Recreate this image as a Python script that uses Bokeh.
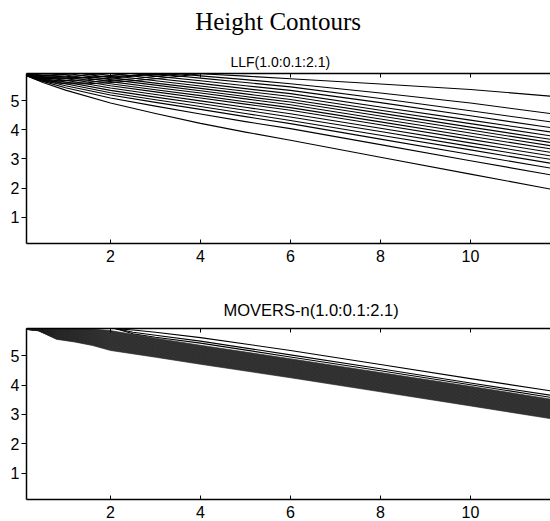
from bokeh.plotting import figure
from bokeh.models import Range1d, LinearAxis, FixedTicker, Title
from bokeh.core.properties import value
from bokeh.layouts import column
from bokeh.embed import file_html
from bokeh.resources import INLINE

# ---------------- data ----------------
MAIN_TITLE = "Height Contours"
TITLE_TOP = "LLF(1.0:0.1:2.1)"
TITLE_BOT = "MOVERS-n(1.0:0.1:2.1)"
X_TICKS = [2, 4, 6, 8, 10]
Y_TICKS = [1, 2, 3, 4, 5]
X_LIM = (0.133, 11.78)
Y_LIM = (0.1, 5.93)

# LLF contour lines: y at LLF_X (values above the top are outside the axes)
LLF_X = [0.13, 0.5, 1, 2, 3, 4, 5, 6, 8, 10, 11.8]
LLF_LINES = [
    [7.00, 6.65, 6.48, 6.21, 6.06, 5.92, 5.84, 5.75, 5.57, 5.38, 5.15],
    [6.90, 6.55, 6.40, 6.14, 6.00, 5.85, 5.72, 5.58, 5.26, 4.92, 4.55],
    [6.80, 6.45, 6.32, 6.07, 5.92, 5.77, 5.62, 5.47, 5.07, 4.65, 4.27],
    [6.70, 6.30, 6.25, 6.00, 5.84, 5.68, 5.51, 5.35, 4.93, 4.48, 4.07],
    [6.50, 6.15, 6.12, 5.93, 5.76, 5.59, 5.41, 5.24, 4.78, 4.33, 3.92],
    [6.30, 6.05, 6.05, 5.86, 5.68, 5.50, 5.32, 5.14, 4.67, 4.21, 3.79],
    [6.10, 5.97, 6.00, 5.79, 5.60, 5.42, 5.23, 5.04, 4.57, 4.09, 3.67],
    [5.95, 5.92, 5.94, 5.72, 5.53, 5.34, 5.14, 4.95, 4.47, 3.99, 3.56],
    [5.93, 5.88, 5.88, 5.65, 5.45, 5.26, 5.06, 4.86, 4.37, 3.89, 3.45],
    [5.92, 5.85, 5.82, 5.58, 5.37, 5.17, 4.96, 4.76, 4.27, 3.78, 3.34],
    [5.91, 5.82, 5.76, 5.51, 5.30, 5.09, 4.88, 4.67, 4.17, 3.67, 3.22],
    [5.90, 5.79, 5.70, 5.43, 5.21, 4.99, 4.77, 4.55, 4.05, 3.55, 3.10],
    [5.89, 5.76, 5.64, 5.35, 5.12, 4.90, 4.67, 4.44, 3.94, 3.43, 2.98],
    [5.88, 5.73, 5.58, 5.27, 5.03, 4.80, 4.56, 4.32, 3.81, 3.31, 2.85],
    [5.87, 5.70, 5.51, 5.19, 4.94, 4.70, 4.45, 4.21, 3.68, 3.15, 2.68],
    [5.86, 5.66, 5.44, 5.09, 4.81, 4.54, 4.28, 4.04, 3.49, 2.94, 2.45],
    [5.85, 5.62, 5.36, 4.92, 4.56, 4.22, 3.92, 3.64, 3.06, 2.48, 1.96],
]
# LLF arcs leaving the upper-left corner and returning to the top edge
ARC_X = [0.13, 0.4, 0.7, 1.0, 1.5, 2.0, 2.5, 3.0, 3.5, 4.0]
ARC_LINES = [
    [5.86, 5.85, 5.88, 5.93, 6.02, 6.12, 6.22, 6.32, 6.42, 6.52],
    [5.86, 5.84, 5.86, 5.90, 5.98, 6.10, 6.20, 6.30, 6.40, 6.50],
    [5.86, 5.81, 5.80, 5.82, 5.88, 5.96, 6.05, 6.15, 6.25, 6.35],
    [5.86, 5.80, 5.78, 5.78, 5.80, 5.83, 5.86, 5.89, 5.92, 5.95],
    [5.86, 5.78, 5.75, 5.75, 5.79, 5.86, 5.94, 6.03, 6.12, 6.20],
    [5.86, 5.75, 5.70, 5.69, 5.71, 5.77, 5.84, 5.92, 6.00, 6.08],
    [5.86, 5.72, 5.66, 5.63, 5.64, 5.69, 5.75, 5.83, 5.91, 5.99],
    [5.86, 5.70, 5.62, 5.58, 5.58, 5.62, 5.68, 5.75, 5.83, 5.92],
]

# MOVERS-n: three separate upper lines
MOV_TOP_X = [1.9, 2.5, 3, 4, 6, 8, 10, 11.8]
MOV_TOP_LINES = [
    [5.95, 5.88, 5.80, 5.62, 5.18, 4.70, 4.22, 3.80],
    [6.00, 5.80, 5.70, 5.50, 5.03, 4.56, 4.07, 3.65],
    [6.02, 5.75, 5.63, 5.43, 4.96, 4.49, 4.01, 3.58],
]
# MOVERS-n: dense band of contours between an upper and a lower edge
MOV_BAND_X = [0.13, 0.4, 0.8, 1.2, 1.6, 2.0, 3.0, 4.0, 6.0, 8.0, 10.0, 11.8]
MOV_BAND_UPPER = [5.93, 5.93, 5.93, 5.93, 5.91, 5.86, 5.60, 5.36, 4.90, 4.43, 3.96, 3.52]
MOV_BAND_LOWER = [5.90, 5.85, 5.56, 5.47, 5.35, 5.18, 4.95, 4.71, 4.25, 3.77, 3.29, 2.85]
MOV_BAND_LEVELS = [0.0, 0.04, 0.08, 0.12, 0.16, 0.2, 0.24, 0.28, 0.32, 0.36, 0.4,
                   0.44, 0.48, 0.52, 0.56, 0.6, 0.64, 0.68, 0.72, 0.76, 0.8,
                   0.84, 0.88, 0.92, 0.96, 1.0]

SANS = "Liberation Sans"
SERIF = "Liberation Serif"


def style_axis(ax):
    ax.axis_line_width = 1.5
    ax.axis_line_color = "black"
    ax.major_tick_line_color = "black"
    ax.major_tick_line_width = 1
    ax.minor_tick_line_color = None
    ax.major_label_text_font = SANS
    ax.major_label_text_font_size = "16px"
    ax.major_label_text_color = "black"


def make_fig(height, top, bottom):
    p = figure(width=550, height=height, output_backend="svg", toolbar_location=None,
               x_range=Range1d(*X_LIM), y_range=Range1d(*Y_LIM),
               min_border_left=26, min_border_right=0, min_border_top=top,
               min_border_bottom=bottom, x_axis_type=None, y_axis_type=None)
    p.outline_line_color = None
    p.background_fill_color = "white"
    p.border_fill_color = "white"

    xb = LinearAxis(ticker=FixedTicker(ticks=X_TICKS))
    yl = LinearAxis(ticker=FixedTicker(ticks=Y_TICKS))
    xt = LinearAxis(ticker=FixedTicker(ticks=X_TICKS))
    for ax in (xb, yl, xt):
        style_axis(ax)
    xb.major_tick_in, xb.major_tick_out = 4, 0
    xb.major_label_standoff = 6
    yl.major_tick_in, yl.major_tick_out = 0, 5
    yl.major_label_standoff = 2
    # top edge of the box: inward ticks, no labels
    xt.major_tick_in, xt.major_tick_out = 4, 0
    xt.major_label_text_color = None
    xt.major_label_standoff = 0
    p.add_layout(xb, "below")
    p.add_layout(yl, "left")
    p.add_layout(xt, "above")
    return p


# ---- figure title strip (pixel-sized ranges) ----
p0 = figure(width=550, height=45, output_backend="svg", toolbar_location=None,
            x_range=Range1d(0, 550), y_range=Range1d(0, 45), min_border=0,
            x_axis_type=None, y_axis_type=None)
p0.outline_line_color = None
p0.text(x=[177], y=[24], text=[MAIN_TITLE], text_font=value(SERIF),
        text_font_size="25px", text_color="black", text_baseline="alphabetic",
        text_align="left")

# ---- top panel ----
p1 = make_fig(225, 28, 27)
p1.title = Title(text=TITLE_TOP, align="left", offset=204, text_font=SANS,
                 text_font_size="14px", text_font_style="normal",
                 text_color="black", standoff=7)
p1.multi_line(xs=[LLF_X] * len(LLF_LINES), ys=LLF_LINES, line_color="black",
              line_width=1.1, line_join="round")
p1.multi_line(xs=[ARC_X] * len(ARC_LINES), ys=ARC_LINES, line_color="black",
              line_width=1.1, line_join="round")

# ---- bottom panel ----
p2 = make_fig(251, 58, 22)
p2.title = Title(text=TITLE_BOT, align="left", offset=197, text_font=SANS,
                 text_font_size="16.5px", text_font_style="normal", text_color="black",
                 standoff=20)
band_ys = [[lo + f * (up - lo) for lo, up in zip(MOV_BAND_LOWER, MOV_BAND_UPPER)]
           for f in MOV_BAND_LEVELS]
p2.varea(x=MOV_BAND_X, y1=MOV_BAND_LOWER, y2=MOV_BAND_UPPER, fill_color="#555555")
p2.multi_line(xs=[MOV_BAND_X] * len(band_ys), ys=band_ys, line_color="#1e1e1e",
              line_width=0.6, line_join="round")
p2.multi_line(xs=[MOV_TOP_X] * len(MOV_TOP_LINES), ys=MOV_TOP_LINES,
              line_color="black", line_width=1.1, line_join="round")

layout = column(p0, p1, p2, spacing=0)
open("out.html", "w").write(file_html(layout, INLINE))
